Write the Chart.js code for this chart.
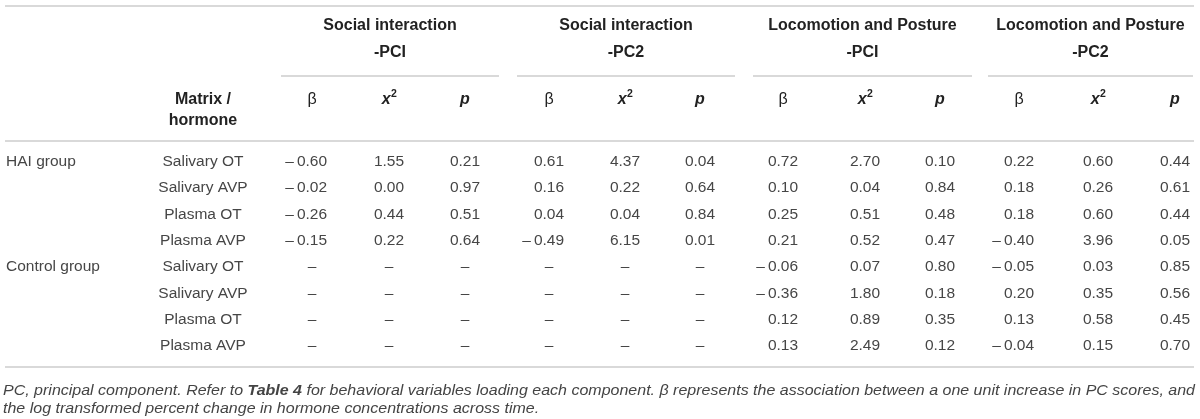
<!DOCTYPE html>
<html><head><meta charset="utf-8">
<script src="https://cdn.jsdelivr.net/npm/chart.js@4.4.1/dist/chart.umd.min.js"></script>
<style>html,body{margin:0;padding:0;background:#fff}#wrap{width:1200px;height:419px;position:relative}</style>
</head><body><div id="wrap"><canvas id="c"></canvas></div>
<script>
// ---------- data ----------
const groupLabels = ['HAI group', '', '', '', 'Control group', '', '', ''];
const matrixLabels = ['Salivary OT', 'Salivary AVP', 'Plasma OT', 'Plasma AVP', 'Salivary OT', 'Salivary AVP', 'Plasma OT', 'Plasma AVP'];
const componentTitles = ['Social interaction', 'Social interaction', 'Locomotion and Posture', 'Locomotion and Posture'];
const componentSubtitles = ['-PCI', '-PC2', '-PCI', '-PC2'];
const statLabels = ['β', 'x2', 'p'];
const rowHeader = ['Matrix /', 'hormone'];

const socialPC1Beta = [-0.60, -0.02, -0.26, -0.15, null, null, null, null];
const socialPC1Chi2 = [1.55, 0.00, 0.44, 0.22, null, null, null, null];
const socialPC1P    = [0.21, 0.97, 0.51, 0.64, null, null, null, null];
const socialPC2Beta = [0.61, 0.16, 0.04, -0.49, null, null, null, null];
const socialPC2Chi2 = [4.37, 0.22, 0.04, 6.15, null, null, null, null];
const socialPC2P    = [0.04, 0.64, 0.84, 0.01, null, null, null, null];
const locoPC1Beta   = [0.72, 0.10, 0.25, 0.21, -0.06, -0.36, 0.12, 0.13];
const locoPC1Chi2   = [2.70, 0.04, 0.51, 0.52, 0.07, 1.80, 0.89, 2.49];
const locoPC1P      = [0.10, 0.84, 0.48, 0.47, 0.80, 0.18, 0.35, 0.12];
const locoPC2Beta   = [0.22, 0.18, 0.18, -0.40, -0.05, 0.20, 0.13, -0.04];
const locoPC2Chi2   = [0.60, 0.26, 0.60, 3.96, 0.03, 0.35, 0.58, 0.15];
const locoPC2P      = [0.44, 0.61, 0.44, 0.05, 0.85, 0.56, 0.45, 0.70];

const footnoteLine1 = [
  ['PC, principal component. Refer to ', 'italic'],
  ['Table 4', 'italic bold'],
  [' for behavioral variables loading each component. β represents the association between a one unit increase in PC scores, and', 'italic']
];
const footnoteLine2 = [['the log transformed percent change in hormone concentrations across time.', 'italic']];

const valueColumns = [socialPC1Beta, socialPC1Chi2, socialPC1P, socialPC2Beta, socialPC2Chi2, socialPC2P,
                      locoPC1Beta, locoPC1Chi2, locoPC1P, locoPC2Beta, locoPC2Chi2, locoPC2P];

// ---------- layout (positions / styles only) ----------
const W = 1200, H = 419;
const colCenters = [312, 389, 465, 549, 625, 700, 783, 865, 940, 1019, 1098, 1175];
const groupSpans = [[281, 499], [517, 735], [753, 972], [988, 1193]];
const ruleSpan = [5, 1194];
const groupLabelX = 6, matrixX = 203;
const FIRST_ROW = 161.5, ROW_PITCH = 26.36;
const HY = {topRule: 6, comp1: 26, comp2: 53, subRule: 76, stat: 100, stat2: 121, headRule: 141, bottomRule: 367, foot1: 391, foot2: 409};
const FONT = '"Liberation Sans", Arial, sans-serif';
const bodyFont = '15.5px ' + FONT, boldFont = 'bold 16px ' + FONT;
const textColor = '#464646', headColor = '#222', ruleColor = '#cccccc';
const footSize = 15, footWidth = 1192, footX = 3;

function fmt(v) {
  if (v === null) return null;
  const s = Math.abs(v).toFixed(2);
  return v < 0 ? '\u2013\u2009' + s : s;
}

const tablePlugin = {
  id: 'table',
  beforeDraw(chart) {
    const ctx = chart.ctx;
    ctx.save(); ctx.fillStyle = '#fff'; ctx.fillRect(0, 0, chart.width, chart.height); ctx.restore();
  },
  afterDatasetsDraw(chart) {
    const ctx = chart.ctx, xs = chart.scales.x, ys = chart.scales.y;
    ctx.save();
    ctx.textBaseline = 'middle';
    // rules
    ctx.strokeStyle = ruleColor; ctx.lineWidth = 1.5;
    const hline = (x0, x1, y) => { ctx.beginPath(); ctx.moveTo(xs.getPixelForValue(x0), y); ctx.lineTo(xs.getPixelForValue(x1), y); ctx.stroke(); };
    hline(ruleSpan[0], ruleSpan[1], HY.topRule);
    hline(ruleSpan[0], ruleSpan[1], HY.headRule);
    hline(ruleSpan[0], ruleSpan[1], HY.bottomRule);
    groupSpans.forEach(s => hline(s[0], s[1], HY.subRule));
    // component headers
    ctx.fillStyle = headColor; ctx.font = boldFont; ctx.textAlign = 'center';
    groupSpans.forEach((s, i) => {
      const cx = xs.getPixelForValue((s[0] + s[1]) / 2);
      ctx.fillText(componentTitles[i], cx, HY.comp1);
      ctx.fillText(componentSubtitles[i], cx, HY.comp2);
    });
    ctx.fillText(rowHeader[0], xs.getPixelForValue(matrixX), HY.stat);
    ctx.fillText(rowHeader[1], xs.getPixelForValue(matrixX), HY.stat2);
    // stat headers
    colCenters.forEach((c, i) => {
      const lab = statLabels[i % 3];
      const cx = xs.getPixelForValue(c);
      if (lab === 'β') {
        ctx.font = '16px ' + FONT; ctx.textAlign = 'center'; ctx.fillText('β', cx, HY.stat);
      } else if (lab === 'x2') {
        ctx.font = 'italic bold 16px ' + FONT;
        const w1 = ctx.measureText('x').width;
        ctx.font = 'bold 10.5px ' + FONT;
        const w2 = ctx.measureText('2').width;
        const x0 = cx - (w1 + w2) / 2;
        ctx.textAlign = 'left';
        ctx.font = 'italic bold 16px ' + FONT; ctx.fillText('x', x0, HY.stat);
        ctx.font = 'bold 10.5px ' + FONT; ctx.fillText('2', x0 + w1 + 0.5, HY.stat - 6);
      } else {
        ctx.font = 'italic bold 16px ' + FONT; ctx.textAlign = 'center'; ctx.fillText('p', cx, HY.stat);
      }
    });
    // row labels
    ctx.font = bodyFont; ctx.fillStyle = textColor;
    matrixLabels.forEach((lab, r) => {
      const y = ys.getPixelForValue(r);
      ctx.textAlign = 'left'; ctx.fillText(groupLabels[r], xs.getPixelForValue(groupLabelX), y);
      ctx.textAlign = 'center'; ctx.fillText(lab, xs.getPixelForValue(matrixX), y);
    });
    // values from dataset elements
    const halfW = ctx.measureText('0.00').width / 2;
    chart.data.datasets.forEach((ds, di) => {
      const meta = chart.getDatasetMeta(di);
      meta.data.forEach((el, r) => {
        const s = fmt(ds.values[r]);
        if (s === null) { ctx.textAlign = 'center'; ctx.fillText('\u2013', el.x, el.y); }
        else { ctx.textAlign = 'right'; ctx.fillText(s, el.x + halfW, el.y); }
      });
    });
    // footnote
    const drawRuns = (runs, y, scaleX) => {
      ctx.save(); ctx.translate(footX, y); ctx.scale(scaleX, 1);
      let x = 0;
      ctx.textAlign = 'left';
      runs.forEach(([t, st]) => { ctx.font = st + ' ' + footSize + 'px ' + FONT; ctx.fillText(t, x, 0); x += ctx.measureText(t).width; });
      ctx.restore();
    };
    const runsWidth = runs => runs.reduce((a, [t, st]) => { ctx.font = st + ' ' + footSize + 'px ' + FONT; return a + ctx.measureText(t).width; }, 0);
    const k = footWidth / runsWidth(footnoteLine1);
    ctx.fillStyle = '#444';
    drawRuns(footnoteLine1, HY.foot1, k);
    drawRuns(footnoteLine2, HY.foot2, k);
    ctx.restore();
  }
};

const datasets = valueColumns.map((vals, i) => ({
  label: 'col' + i,
  values: vals,
  data: vals.map((v, r) => ({x: colCenters[i], y: r})),
  pointRadius: 0, pointHoverRadius: 0, showLine: false
}));

new Chart(document.getElementById('c'), {
  type: 'scatter',
  data: {datasets},
  options: {
    responsive: true, maintainAspectRatio: false, animation: false, events: [],
    layout: {padding: 0},
    plugins: {legend: {display: false}, tooltip: {enabled: false}},
    scales: {
      x: {type: 'linear', display: false, min: 0, max: W},
      y: {type: 'linear', display: false, reverse: true, min: -FIRST_ROW / ROW_PITCH, max: (H - FIRST_ROW) / ROW_PITCH}
    }
  },
  plugins: [tablePlugin]
});
</script></body></html>
